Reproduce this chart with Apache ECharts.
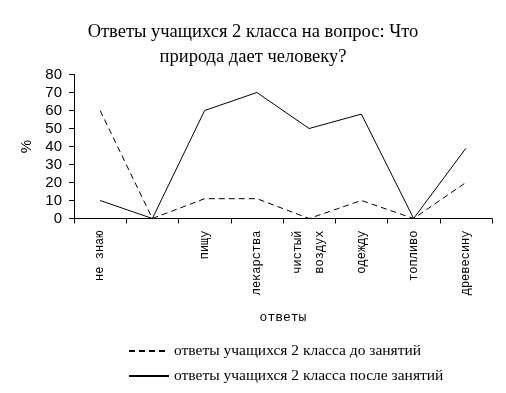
<!DOCTYPE html>
<html><head><meta charset="utf-8">
<script src="https://cdn.jsdelivr.net/npm/echarts@6/dist/echarts.min.js"></script>
<style>html,body{margin:0;padding:0;background:#fff}#c{width:506px;height:393px}</style>
</head><body><div id="c"></div>
<script>
const categories = ['не знаю', '', 'пищу', 'лекарства', 'чистый\nвоздух', 'одежду', 'топливо', 'древесину'];
const before = [60, 0, 11, 11, 0, 10, 0, 20];
const after = [10, 0, 60, 70, 50, 58, 0, 39];
const yTicks = [0, 10, 20, 30, 40, 50, 60, 70, 80];
const seriesNames = ['ответы учащихся 2 класса до занятий', 'ответы учащихся 2 класса после занятий'];

const chart = echarts.init(document.getElementById('c'), null, {renderer: 'canvas'});
chart.setOption({
  animation: false,
  backgroundColor: '#fff',
  title: {
    text: 'Ответы учащихся 2 класса на вопрос: Что\nприрода дает человеку?',
    left: 'center', top: 15,
    textStyle: {fontFamily: 'Liberation Serif', fontSize: 18.5, fontWeight: 'normal', color: '#000', lineHeight: 25}
  },
  grid: {left: 74, right: 14, top: 74.5, bottom: 174.5},
  legend: {
    orient: 'vertical', left: 128, top: 343, padding: 0,
    itemWidth: 40, itemHeight: 14, itemGap: 9,
    itemStyle: {opacity: 0},
    textStyle: {fontFamily: 'Liberation Serif', fontSize: 15.5, color: '#000'},
    data: seriesNames
  },
  xAxis: {
    type: 'category', data: categories, boundaryGap: true,
    name: 'ответы', nameLocation: 'middle', nameGap: 93,
    nameTextStyle: {fontFamily: 'Liberation Mono', fontSize: 13, color: '#000'},
    axisLine: {lineStyle: {color: '#000', width: 1}},
    axisTick: {show: true, length: 5, lineStyle: {color: '#000'}, interval: 0},
    axisLabel: {rotate: 90, interval: 0, margin: 12, fontFamily: 'Liberation Mono', fontSize: 12, color: '#000', lineHeight: 22}
  },
  yAxis: {
    type: 'value', min: yTicks[0], max: yTicks[yTicks.length - 1], interval: 10,
    name: '%', nameLocation: 'middle', nameGap: 40, nameRotate: 90,
    nameTextStyle: {fontFamily: 'Liberation Sans', fontSize: 15, color: '#000'},
    axisLine: {show: true, lineStyle: {color: '#000', width: 1}},
    axisTick: {show: true, length: 5, lineStyle: {color: '#000'}},
    axisLabel: {margin: 12, fontFamily: 'Liberation Sans', fontSize: 15, color: '#000'},
    splitLine: {show: false}
  },
  series: [
    {name: seriesNames[0], type: 'line', data: before, symbol: 'none',
     lineStyle: {color: '#000', width: 1, type: [6, 4]}, itemStyle: {color: '#000'}},
    {name: seriesNames[1], type: 'line', data: after, symbol: 'none',
     lineStyle: {color: '#000', width: 1, type: 'solid'}, itemStyle: {color: '#000'}}
  ]
});
</script></body></html>
